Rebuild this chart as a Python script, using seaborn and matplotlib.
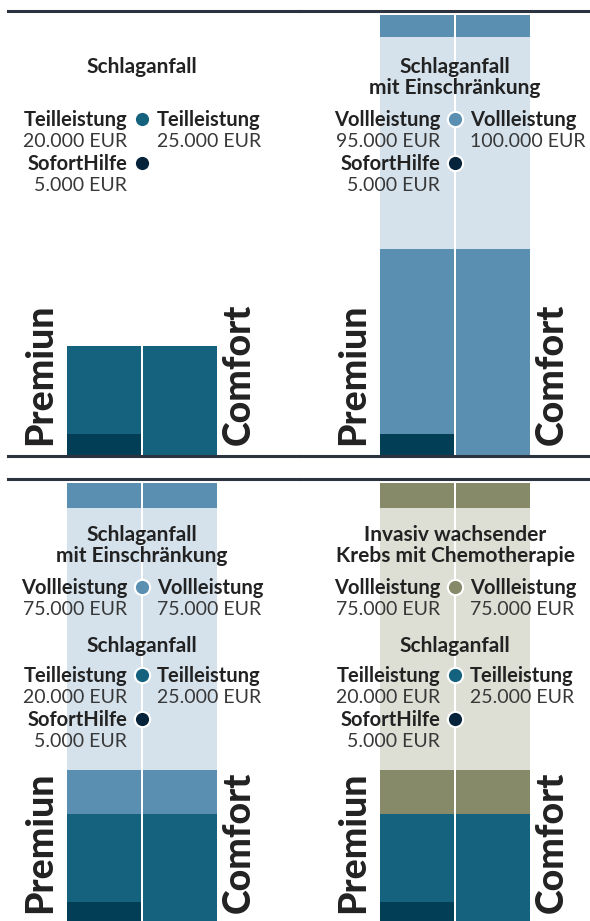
import numpy as np
import pandas as pd
import matplotlib
matplotlib.use("Agg")
import matplotlib.pyplot as plt
import seaborn as sns

sns.set_theme(style="white")
plt.rcParams["font.family"] = ["Lato", "DejaVu Sans"]

# spelled as in the original graphic
plans = ["Premiun", "Comfort"]

# EUR per panel: top-left, top-right, bottom-left, bottom-right
sofort_premium = [5000, 5000, 5000, 5000]
teil_premium = [20000, 0, 20000, 20000]
teil_comfort = [25000, 0, 25000, 25000]
voll_premium = [0, 95000, 75000, 75000]
voll_comfort = [0, 100000, 75000, 75000]

teil_heading = "Schlaganfall"
voll_headings = ["",
                 "Schlaganfall\nmit Einschränkung",
                 "Schlaganfall\nmit Einschränkung",
                 "Invasiv wachsender\nKrebs mit Chemotherapie"]
sofort_label = "SofortHilfe"
teil_label = "Teilleistung"
voll_label = "Vollleistung"

# colours
dark = "#033e57"
dark_dot = "#05233a"
teal = "#15627f"
blue = "#5a8fb2"
blue_light = "#d5e2ec"
olive = "#868a68"
olive_light = "#dddfd5"
voll_colors = [blue, blue, blue, olive]
band_colors = [blue_light, blue_light, blue_light, olive_light]
ink = "#222222"
grey = "#383838"
rule = "#2b3340"

# layout, in pixels
W, H = 590, 921
centers = [142, 455, 142, 455]
tops = [11, 11, 479, 479]
col_edges = [(8, 299), (299, 590), (8, 299), (299, 590)]
panel_h = 445
unit = 75.5
ymax = 101000
bands = [None, (47000, 95000), (35000, 94500), (35000, 94500)]


def fx(px):
    return px / W


def fy(py):
    return 1 - py / H


def eur(v):
    return f"{v:,}".replace(",", ".") + " EUR"


fig = plt.figure(figsize=(W / 100, H / 100), dpi=100)

for i in range(4):
    x0, x1 = col_edges[i]
    cx, top = centers[i], tops[i]
    ax = fig.add_axes([fx(x0), fy(top + panel_h), (x1 - x0) / W, panel_h / H])

    df = pd.DataFrame({
        "plan": plans,
        "sofort": [sofort_premium[i], 0],
        "teil": [teil_premium[i], teil_comfort[i]],
        "voll": [voll_premium[i], voll_comfort[i]],
    })
    df["to_teil"] = df["sofort"] + df["teil"]
    df["total"] = df["to_teil"] + df["voll"]

    # stacked bars drawn as overlapping cumulative layers, tallest first
    layers = [("total", voll_colors[i])]
    if bands[i]:
        lo, hi = bands[i]
        df["band_hi"] = np.where(df["voll"] > 0, hi, 0)
        df["band_lo"] = np.where(df["voll"] > 0, lo, 0)
        layers += [("band_hi", band_colors[i]), ("band_lo", voll_colors[i])]
    layers += [("to_teil", teal), ("sofort", dark)]
    for col, c in layers:
        sns.barplot(data=df, x="plan", y=col, order=plans, color=c,
                    saturation=1, width=0.975, linewidth=0, errorbar=None, ax=ax)

    ax.set_xlim(0.5 - (cx - x0) / unit, 0.5 + (x1 - cx) / unit)
    ax.set_ylim(0, ymax)
    ax.set_xticks([])
    ax.set_yticks([])
    ax.set_xlabel("")
    ax.set_ylabel("")
    ax.patch.set_alpha(0)
    for s in ["left", "right"]:
        ax.spines[s].set_visible(False)
    for s in ["top", "bottom"]:
        ax.spines[s].set_color(rule)
        ax.spines[s].set_linewidth(2.2)

    # plan names, rotated
    bottom_px = top + panel_h - 11
    fig.text(fx(cx - 102), fy(bottom_px), plans[0], rotation=90, ha="center",
             va="bottom", fontsize=27, weight="black", color=ink)
    fig.text(fx(cx + 97), fy(bottom_px), plans[1], rotation=90, ha="center",
             va="bottom", fontsize=27, weight="black", color=ink)

    # annotation blocks
    items = []
    if voll_premium[i] or voll_comfort[i]:
        items.append(("head", voll_headings[i]))
        items.append(("row", voll_label, voll_premium[i], voll_comfort[i], voll_colors[i]))
    if teil_premium[i] or teil_comfort[i]:
        items.append(("head", teil_heading))
        items.append(("row", teil_label, teil_premium[i], teil_comfort[i], teal))
    items.append(("row", sofort_label, sofort_premium[i], 0, dark_dot))

    y = None
    first_row = True
    prev = None
    for item in items:
        if item[0] == "head":
            yh = top + 62 if prev is None else y + 58
            for k, line in enumerate(item[1].split("\n")):
                fig.text(fx(cx), fy(yh + 21 * k), line, ha="center", va="baseline",
                         fontsize=15, weight="bold", color=ink)
            y = top + 115 if first_row else yh + 30
        else:
            if prev == "row":
                y += 44
            _, label, vl, vr, dot = item
            fig.text(fx(cx - 15), fy(y), label, ha="right", va="baseline",
                     fontsize=14.5, weight="bold", color=ink)
            fig.text(fx(cx - 15), fy(y + 21), eur(vl), ha="right", va="baseline",
                     fontsize=14, weight="normal", color=grey)
            if vr:
                fig.text(fx(cx + 15), fy(y), label, ha="left", va="baseline",
                         fontsize=14.5, weight="bold", color=ink)
                fig.text(fx(cx + 15), fy(y + 21), eur(vr), ha="left", va="baseline",
                         fontsize=14, weight="normal", color=grey)
            ax.plot([fx(cx)], [fy(y - 7)], transform=fig.transFigure, marker="o",
                    ms=11, mfc=dot, mec="white", mew=1.5, clip_on=False, zorder=5)
            first_row = False
        prev = item[0]

fig.savefig("out.png", dpi=100)
